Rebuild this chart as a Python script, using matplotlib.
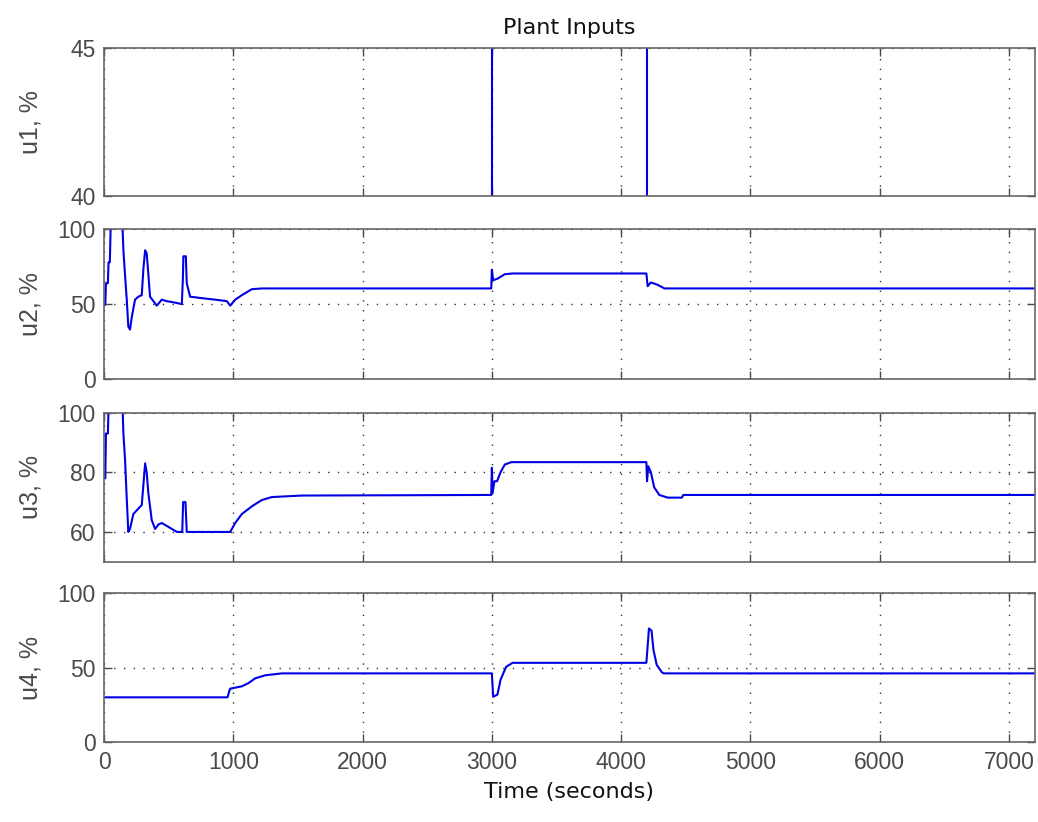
import matplotlib
matplotlib.use('Agg')
import matplotlib.pyplot as plt

# plant input data (time in seconds, value in %)
t_end = 7200

u1_t = [0, 3000, 3000, 4200, 4200, t_end]
u1_v = [35, 35, 50, 50, 35, 35]

u2_t = [0, 10, 15, 30, 35, 45, 55, 137, 150, 163, 176, 188, 201, 214, 240, 266, 292, 305, 318,
        330, 343, 356, 382, 408, 447, 485, 550, 602, 610, 614, 633, 640, 666, 756, 860, 950, 976,
        1015, 1066, 1144, 1221, 2995, 3000, 3010, 3043, 3100, 3160, 4195, 4205, 4230, 4280, 4335, t_end]
u2_v = [49, 50, 64, 64, 78, 78, 115, 115, 86, 69, 53, 35, 33, 41, 53, 55, 56, 74, 86,
        84, 70, 55, 52, 49, 53, 52, 51, 50, 67, 82, 82, 64, 55, 54, 53, 52, 49,
        53, 56, 60, 60.5, 60.5, 73, 66, 67, 70, 70.5, 70.5, 62, 64.5, 63, 60.5, 60.5]

u3_t = [0, 10, 15, 30, 40, 137, 150, 163, 176, 188, 201, 227, 280, 292, 305, 318, 330, 343, 369,
        395, 421, 447, 498, 563, 605, 612, 630, 640, 976, 1015, 1066, 1144, 1221, 1299, 1530,
        2995, 3000, 3005, 3020, 3040, 3067, 3100, 3150, 4195, 4200, 4210, 4230, 4255, 4295, 4360,
        4470, 4480, t_end]
u3_v = [78, 78, 93, 93, 110, 110, 93, 84, 71, 60, 61, 66, 68.5, 69, 76, 83, 80, 73, 64,
        61, 62.5, 63, 61.7, 60, 60, 70, 70, 60, 60, 63, 66, 68.6, 70.7, 71.7, 72.2,
        72.4, 81.5, 73, 77, 77, 80, 82.6, 83.4, 83.4, 77, 82, 80, 75, 72.4, 71.5,
        71.5, 72.4, 72.4]

u4_t = [0, 955, 975, 1066, 1118, 1170, 1247, 1376, 3000, 3010, 3043, 3067, 3110, 3160,
        4195, 4215, 4235, 4250, 4275, 4315, 4330, t_end]
u4_v = [30.2, 30.2, 36, 37.6, 39.8, 43, 45, 46.3, 46.3, 30.6, 32, 42, 50.7, 53.4,
        53.4, 76.5, 75, 62, 52, 47, 46.3, 46.3]

x_ticks = [0, 1000, 2000, 3000, 4000, 5000, 6000, 7000]

panels = [
    ('u1, %', u1_t, u1_v, (40, 45), [40, 45]),
    ('u2, %', u2_t, u2_v, (0, 100), [0, 50, 100]),
    ('u3, %', u3_t, u3_v, (50, 100), [60, 80, 100]),
    ('u4, %', u4_t, u4_v, (0, 100), [0, 50, 100]),
]

# axes boxes in figure fraction (left, bottom, width, height)
boxes = [
    (0.1002, 0.762, 0.8968, 0.180),
    (0.1002, 0.539, 0.8968, 0.182),
    (0.1002, 0.3166, 0.8968, 0.1814),
    (0.1002, 0.097, 0.8968, 0.181),
]

grey = '#4a4a4a'
tick_font = 'Liberation Sans'


def main():
    fig = plt.figure(figsize=(10.38, 8.22), dpi=100)

    axes = []
    for (label, t, v, ylim, yticks), box in zip(panels, boxes):
        ax = fig.add_axes(box)
        ax.plot(t, v, color='#0000e6', linewidth=1.5)
        ax.set_xlim(0, t_end)
        ax.set_ylim(*ylim)
        ax.set_xticks(x_ticks)
        ax.set_yticks(yticks)
        ax.grid(True, linestyle=(0, (1, 6)), color='#333333', linewidth=1.0)
        ax.tick_params(direction='in', length=6, width=1, color=grey,
                       top=True, right=True, labelsize=16.5, labelcolor=grey, pad=6)
        for lab in ax.get_yticklabels() + ax.get_xticklabels():
            lab.set_fontfamily(tick_font)
        for sp in ax.spines.values():
            sp.set_color('#666666')
            sp.set_linewidth(1.2)
        ax.set_ylabel(label, fontsize=18, color=grey, family=tick_font)
        ax.yaxis.set_label_coords(-0.066, 0.5)
        axes.append(ax)

    for ax in axes[:-1]:
        ax.tick_params(labelbottom=False)

    axes[0].set_title('Plant Inputs', fontsize=16, color='#111111', pad=10)
    axes[-1].set_xlabel('Time (seconds)', fontsize=16, color='#111111', labelpad=6)

    fig.savefig('out.png', dpi=100)


if __name__ == "__main__":
    main()
